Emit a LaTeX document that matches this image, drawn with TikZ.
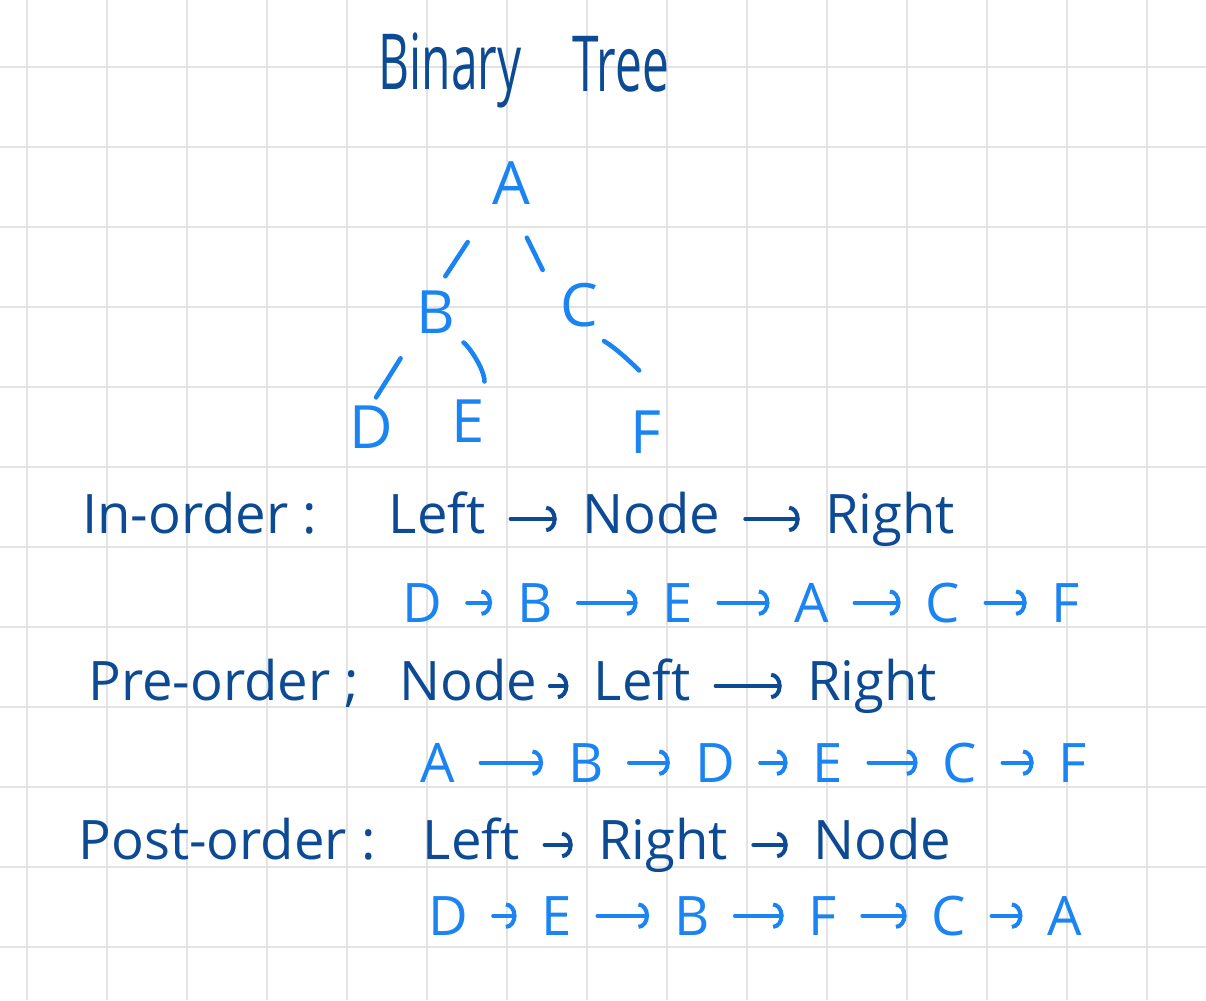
\documentclass[tikz,border=0pt]{standalone}
\usepackage{fontspec}
\setmainfont{Open Sans}
\newfontfamily\titlefont{Open Sans}[FakeStretch=0.62]
\usepackage{tikz}
\usetikzlibrary{arrows.meta}
\definecolor{inkdark}{HTML}{0D4A94}
\definecolor{inklight}{HTML}{1A84F2}
\definecolor{gridgray}{HTML}{E3E3E3}

\begin{document}
\begin{tikzpicture}[x=0.02cm, y=-0.02cm,
    gridline/.style={gridgray, line width=1.6pt},
    word/.style={inner sep=0pt, anchor=base, text=inkdark,
                 font=\fontsize{31}{36}\selectfont, text height=22pt, text depth=6pt},
    letter/.style={inner sep=0pt, anchor=base, text=inklight,
                   font=\fontsize{31}{36}\selectfont, text height=22pt, text depth=0pt},
    treeletter/.style={letter, font=\fontsize{34}{40}\selectfont, text height=24pt},
    branch/.style={inklight, line width=2.6pt, line cap=round},
    arr/.style={-{Arc Barb[length=6pt, width=15pt]}, line width=2.3pt, line cap=round,
                shorten <=0.5cm, shorten >=0.5cm}
  ]
    \useasboundingbox (0,0) rectangle (1206,1000);
    \fill[white] (0,0) rectangle (1206,1000);
    % squared paper
    \foreach \x in {27,107,...,1147} \draw[gridline] (\x,0) -- (\x,1000);
    \foreach \y in {67,147,...,947} \draw[gridline] (0,\y) -- (1206,\y);

    % title
    \node[word, font=\titlefont\fontsize{44}{50}\selectfont] (binary) at (450,90) {Binary};
    \node[word, font=\titlefont\fontsize{44}{50}\selectfont] (tree) at (621,92) {Tree};

    % the tree
    \node[treeletter] (A) at (511,205) {A};
    \node[treeletter] (B) at (436,333) {B};
    \node[treeletter] (C) at (579,326) {C};
    \node[treeletter] (D) at (371,448) {D};
    \node[treeletter] (E) at (468,442) {E};
    \node[treeletter] (F) at (646,453) {F};
    \draw[branch, shorten <=0.88cm, shorten >=0.34cm] (A.south west) -- (B.north);
    \draw[branch, shorten <=0.72cm, shorten >=0.78cm] (A.south) -- (C.west);
    \draw[branch, shorten <=0.59cm, shorten >=0.19cm] (B.south west) -- (D.north);
    \draw[branch, shorten <=0.58cm, shorten >=0.36cm] (B.south) to[bend left=35] (E.north east);
    \draw[branch, shorten <=0.58cm, shorten >=0.92cm] (C.south) to[bend left=15] (F.north east);

    % in-order
    \node[word, anchor=base west] (inorder) at (82,533) {In-order :};
    \node[word] (inL) at (437,533) {Left};
    \node[word] (inN) at (651,533) {Node};
    \node[word] (inR) at (890,533) {Right};
    \draw[arr, inkdark] (inL) -- (inN);
    \draw[arr, inkdark] (inN) -- (inR);
    \foreach \l/\x [count=\i] in {D/422,B/535,E/678,A/812,C/943,F/1066}
      \node[letter] (in\i) at (\x,622) {\l};
    \foreach \i in {1,...,5}{
      \pgfmathtruncatemacro\j{\i+1}
      \draw[arr, inklight] (in\i) -- (in\j);
    }

    % pre-order
    \node[word, anchor=base west] (preorder) at (88,700) {Pre-order ;};
    \node[word] (preN) at (468,700) {Node};
    \node[word] (preL) at (642,700) {Left};
    \node[word] (preR) at (872,700) {Right};
    \draw[arr, inkdark, shorten <=0.25cm, shorten >=0.5cm] (preN) -- (preL);
    \draw[arr, inkdark] (preL) -- (preR);
    \foreach \l/\x [count=\i] in {A/438,B/586,D/715,E/828,C/960,F/1073}
      \node[letter] (pre\i) at (\x,782) {\l};
    \foreach \i in {1,...,5}{
      \pgfmathtruncatemacro\j{\i+1}
      \draw[arr, inklight] (pre\i) -- (pre\j);
    }

    % post-order
    \node[word, anchor=base west] (postorder) at (78,859) {Post-order :};
    \node[word] (postL) at (471,859) {Left};
    \node[word] (postR) at (663,859) {Right};
    \node[word] (postN) at (882,859) {Node};
    \draw[arr, inkdark] (postL) -- (postR);
    \draw[arr, inkdark] (postR) -- (postN);
    \foreach \l/\x [count=\i] in {D/448,E/557,B/692,F/823,C/949,A/1065}
      \node[letter] (post\i) at (\x,935) {\l};
    \foreach \i in {1,...,5}{
      \pgfmathtruncatemacro\j{\i+1}
      \draw[arr, inklight] (post\i) -- (post\j);
    }
\end{tikzpicture}
\end{document}
